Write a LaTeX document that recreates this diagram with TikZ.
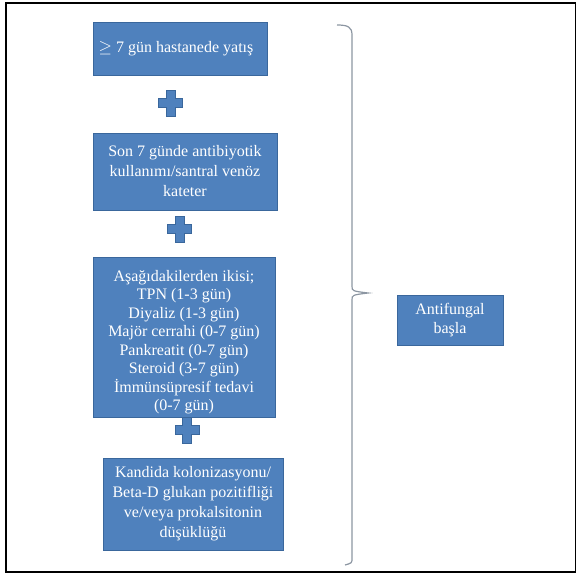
\documentclass[tikz,border=0pt]{standalone}
\usepackage{fontspec}
\setmainfont{Liberation Serif}
\definecolor{boxblue}{HTML}{4F81BD}
\definecolor{boxedge}{HTML}{3A679C}
\definecolor{bracegray}{HTML}{8C96A2}

\begin{document}
\begin{tikzpicture}[x=1pt,y=-1pt,
  box/.style={draw=boxedge,fill=boxblue,text=white,align=center,inner sep=2pt,
    font=\fontsize{16}{20}\selectfont}]
  \useasboundingbox (0,0) rectangle (577,576);
  % frame
  \draw[line width=1.3pt] (6,3) rectangle (575.5,572);
  % criteria
  \node[box,minimum width=174pt,minimum height=53pt] (stay) at (180,48.5) {\raisebox{3pt}{$\geq$ 7 gün hastanede yatış\hspace{8pt}}};
  \node[box,minimum width=184pt,minimum height=77pt] (anti) at (185,171.5)
    {Son 7 günde antibiyotik\\kullanımı/santral venöz\\kateter};
  \node[box,minimum width=182pt,minimum height=160pt,font=\fontsize{16}{18.5}\selectfont] (risk) at (184,337)
    {\rule{0pt}{21.5pt}Aşağıdakilerden ikisi;\\TPN (1-3 gün)\\Diyaliz (1-3 gün)\\Majör cerrahi (0-7 gün)\\Pankreatit (0-7 gün)\\Steroid (3-7 gün)\\İmmünsüpresif tedavi\\(0-7 gün)};
  \node[box,minimum width=180pt,minimum height=92pt] (colon) at (193,504)
    {Kandida kolonizasyonu/\\Beta-D glukan pozitifliği\\ve/veya prokalsitonin\\düşüklüğü};
  % plus signs
  \foreach \px/\py in {170.5/103,179.5/229,187/430}
    \draw[boxedge,fill=boxblue] (\px-4.5,\py-13) -- (\px+4.5,\py-13) -- (\px+4.5,\py-4.5) -- (\px+12,\py-4.5)
      -- (\px+12,\py+4.5) -- (\px+4.5,\py+4.5) -- (\px+4.5,\py+13) -- (\px-4.5,\py+13) -- (\px-4.5,\py+4.5)
      -- (\px-12,\py+4.5) -- (\px-12,\py-4.5) -- (\px-4.5,\py-4.5) -- cycle;
  % brace
  \coordinate (tip) at (368,293);
  \draw[bracegray,line width=1.2pt] (337,25) .. controls (348,25) and (352,27) .. (352,35) -- (352,286)
    .. controls (352,291) .. (tip) .. controls (352,295) .. (352,300) -- (352,558)
    .. controls (352,563) .. (345,565);
  % result
  \node[box,minimum width=106pt,minimum height=50pt,font=\fontsize{16}{19}\selectfont] (start) at (450,320) {Antifungal\\başla};
\end{tikzpicture}
\end{document}
